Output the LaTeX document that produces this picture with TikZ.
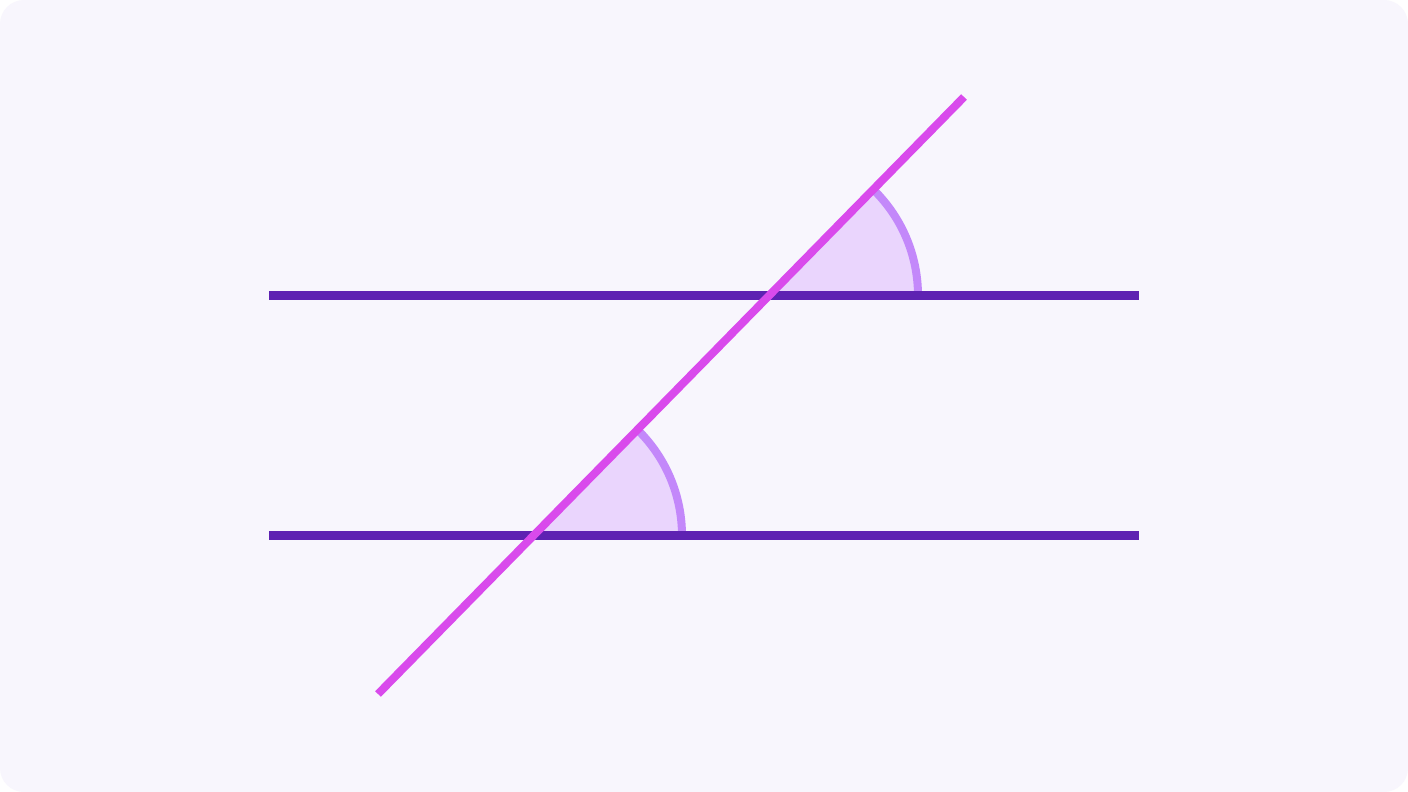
\documentclass[tikz,border=0pt]{standalone}
\usepackage{tikz}
\usetikzlibrary{calc}
\definecolor{cardbg}{HTML}{F8F6FD}
\definecolor{lineviolet}{HTML}{5E22B2}
\definecolor{transpink}{HTML}{D94AEC}
\definecolor{arcpurple}{HTML}{C388FA}
\definecolor{arcfill}{HTML}{EAD5FD}

\begin{document}
\begin{tikzpicture}[x=1pt,y=-1pt]
  \tikzstyle{parallel}=[line width=9.5pt,draw=lineviolet]
  \tikzstyle{transversal}=[line width=8pt,draw=transpink]
  \tikzstyle{anglefill}=[fill=arcfill]
  \tikzstyle{anglearc}=[line width=8pt,draw=arcpurple]
    \fill[white] (0,0) rectangle (1408,792);
    \fill[cardbg,rounded corners=24pt] (0,0) rectangle (1408,792);
    \coordinate (l1a) at (269,295.5);
    \coordinate (l1b) at (1139,295.5);
    \coordinate (l2a) at (269,535.5);
    \coordinate (l2b) at (1139,535.5);
    \coordinate (tlow) at (378,694);
    \coordinate (thigh) at (964,97);
    \coordinate (up) at (770,295.5);
    \coordinate (dn) at (534,535.5);
    % corresponding angles
    \foreach \c in {up,dn} {
      \fill[anglefill] (\c) -- ++(148,0) arc[start angle=0,end angle=-45.5,radius=148] -- cycle;
      \draw[anglearc] ($(\c)+(148,0)$) arc[start angle=0,end angle=-45.5,radius=148];
    }
    \draw[parallel] (l1a) -- (l1b);
    \draw[parallel] (l2a) -- (l2b);
    \draw[transversal] (tlow) -- (thigh);
\end{tikzpicture}
\end{document}
